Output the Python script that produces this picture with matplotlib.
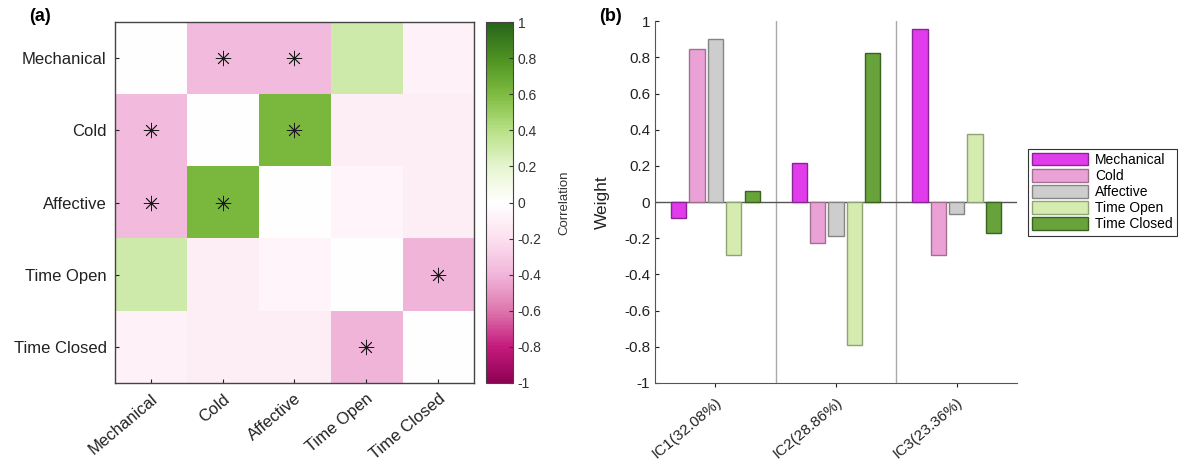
import numpy as np
import matplotlib
matplotlib.use('Agg')
import matplotlib.pyplot as plt
from matplotlib.colors import LinearSegmentedColormap
from matplotlib.ticker import FuncFormatter

plt.rcParams['font.family'] = ['Liberation Sans', 'DejaVu Sans']

# data
variables = ['Mechanical', 'Cold', 'Affective', 'Time Open', 'Time Closed']
corr = np.array([
    [0.00, -0.38, -0.38, 0.30, -0.09],
    [-0.38, 0.00, 0.62, -0.11, -0.11],
    [-0.38, 0.62, 0.00, -0.07, -0.11],
    [0.30, -0.11, -0.07, 0.00, -0.40],
    [-0.09, -0.11, -0.11, -0.40, 0.00],
])
signif_pairs = [(0, 1), (0, 2), (1, 0), (2, 0), (1, 2), (2, 1), (3, 4), (4, 3)]

components = ['IC1(32.08%)', 'IC2(28.86%)', 'IC3(23.36%)']
w_mechanical = [-0.09, 0.215, 0.958]
w_cold = [0.844, -0.224, -0.29]
w_affective = [0.90, -0.19, -0.066]
w_time_open = [-0.29, -0.79, 0.376]
w_time_closed = [0.059, 0.825, -0.17]

bar_colors = ['#E03CEB', '#EAA2D6', '#CDCDCD', '#D6EBB0', '#68A23B']
edge_colors = ['#8a2595', '#a0708f', '#858585', '#8ea474', '#3a621f']


def fmt(v, p):
    return '%g' % (round(v, 1) + 0.0)


fig = plt.figure(figsize=(11.79, 4.71), dpi=100)

# (a) correlation heatmap
cmap = LinearSegmentedColormap.from_list('piyg_w', [
    '#8e0152', '#c51b7d', '#de77ae', '#f1b6da', '#fde0ef', '#ffffff',
    '#e6f5d0', '#b8e186', '#7fbc41', '#4d9221', '#276419'])

ax1 = fig.add_axes([0.0975, 0.187, 0.3045, 0.766])
im = ax1.imshow(corr, cmap=cmap, vmin=-1, vmax=1, aspect='auto')
for i, j in signif_pairs:
    ax1.plot(j, i, marker=(8, 2, 0), color='#1a1a1a', markersize=11, mew=0.6)
ax1.set_xticks(range(len(variables)))
ax1.set_yticks(range(len(variables)))
ax1.set_xticklabels(variables, rotation=40, ha='right', rotation_mode='anchor')
ax1.set_yticklabels(variables)
ax1.tick_params(direction='in', length=3, labelsize=12, colors='#222', pad=6)
for sp in ax1.spines.values():
    sp.set_color('#444')
    sp.set_linewidth(1.0)
fig.text(0.025, 0.965, '(a)', fontsize=13, fontweight='bold', va='center')

cax = fig.add_axes([0.412, 0.187, 0.0229, 0.766])
cb = fig.colorbar(im, cax=cax, ticks=np.arange(-1, 1.01, 0.2))
cb.ax.yaxis.set_major_formatter(FuncFormatter(fmt))
cb.ax.tick_params(labelsize=10, direction='in', length=3, colors='#333')
cb.outline.set_edgecolor('#444')
cb.set_label('Correlation', fontsize=9.5, color='#333', labelpad=12)

# (b) IC weights
ax2 = fig.add_axes([0.5556, 0.187, 0.307, 0.768])
series = [w_mechanical, w_cold, w_affective, w_time_open, w_time_closed]
x = np.arange(1, len(components) + 1)
step = 0.152
width = 0.125
for k, vals in enumerate(series):
    ax2.bar(x + (k - 2) * step, vals, width=width, color=bar_colors[k],
            edgecolor=edge_colors[k], linewidth=1.0, label=variables[k], zorder=3)
ax2.axhline(0, color='#555', lw=1.0, zorder=2)
for xv in [1.5, 2.5]:
    ax2.axvline(xv, color='#aaa', lw=1.0, zorder=1)
ax2.set_xlim(0.5, 3.5)
ax2.set_ylim(-1, 1)
ax2.set_yticks(np.arange(-1, 1.01, 0.2))
ax2.yaxis.set_major_formatter(FuncFormatter(fmt))
ax2.set_xticks(x)
ax2.set_xticklabels(components, rotation=40, ha='right', rotation_mode='anchor')
ax2.tick_params(axis='y', direction='in', length=3, labelsize=11, colors='#222')
ax2.tick_params(axis='x', direction='out', length=3, labelsize=11, colors='#222', pad=6)
ax2.spines['top'].set_visible(False)
ax2.spines['right'].set_visible(False)
ax2.spines['left'].set_color('#555')
ax2.spines['bottom'].set_color('#555')
ax2.set_ylabel('Weight', fontsize=12.5, color='#222', labelpad=10)
fig.text(0.508, 0.965, '(b)', fontsize=13, fontweight='bold', va='center')

leg = ax2.legend(loc='upper left', bbox_to_anchor=(0.872, 0.684),
                 bbox_transform=fig.transFigure, fontsize=10, frameon=True,
                 fancybox=False, edgecolor='#333', framealpha=1,
                 handlelength=4.0, handleheight=1.0, labelspacing=0.15,
                 handletextpad=0.5, borderpad=0.3, borderaxespad=0)
leg.get_frame().set_linewidth(0.8)

fig.savefig('out.png', dpi=100)
